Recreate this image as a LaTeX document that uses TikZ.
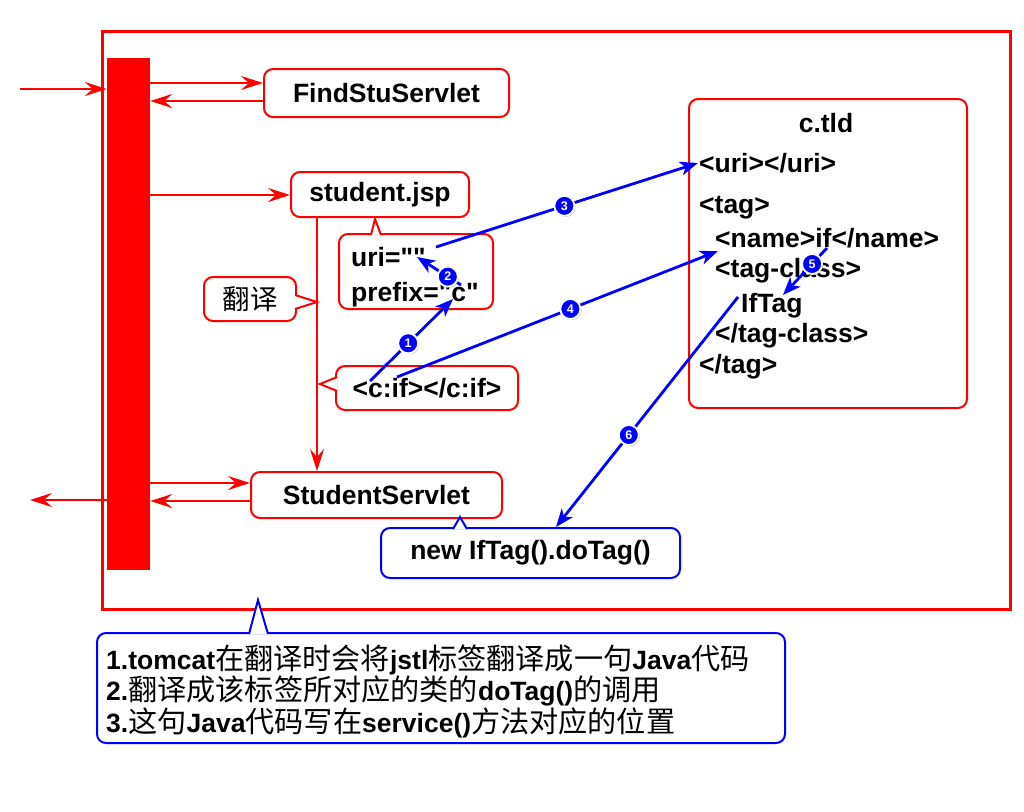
\documentclass[tikz,border=0pt]{standalone}
\usepackage{fontspec}
\setmainfont{Liberation Sans}[Ligatures=TeXOff]
\newfontfamily\cjk[Scale=1.1]{Noto Sans CJK SC}
\usetikzlibrary{arrows.meta,shadows}
\newcommand\zhtext[1]{{\cjk\mdseries #1}}
\begin{document}
\begin{tikzpicture}[x=1pt,y=-1pt,
 redbox/.style={draw=red,line width=2pt,rounded corners=9pt,fill=white,font=\fontsize{26.5}{30}\selectfont\bfseries,inner sep=0pt},
 bluebox/.style={redbox,draw=blue},
 ptr/.style={draw=red,line width=2pt,fill=white,line join=miter},
 bptr/.style={ptr,draw=blue},
 redarrow/.style={draw=red,line width=2.8pt,-{Stealth[length=22pt,width=14pt,inset=8pt]}},
 bluearrow/.style={draw=blue,line width=2.8pt,-{Stealth[length=18pt,width=14pt,inset=5pt]}},
 num/.style={circle,fill=blue,draw=white,line width=1.8pt,inner sep=0pt,minimum size=20pt,text=white,font=\fontsize{12.5}{12.5}\selectfont\bfseries,drop shadow={shadow xshift=1.2pt,shadow yshift=-1.2pt,opacity=0.45}},
 txt/.style={font=\fontsize{26.5}{30}\selectfont\bfseries,inner sep=0pt,anchor=base west},
 notetxt/.style={font=\fontsize{26.5}{30}\selectfont\bfseries,inner sep=0pt,anchor=base west}]
\useasboundingbox (0,0) rectangle (1024,811);

% frame and bar
\node[draw=red,line width=3pt,minimum width=908pt,minimum height=578pt,inner sep=0pt] (frame) at (556,320) {};
\node[fill=red,minimum width=43pt,minimum height=512pt,inner sep=0pt] (bar) at (128.5,314) {};

% boxes
\node[redbox,minimum width=245pt,minimum height=48pt] (find) at (386.5,93) {FindStuServlet};
\node[redbox,minimum width=178pt,minimum height=45pt] (jsp) at (380,194.5) {student.jsp};
\node[redbox,minimum width=251pt,minimum height=46pt] (ss) at (376.5,495) {StudentServlet};

% uri callout
\node[redbox,minimum width=154pt,minimum height=75pt] (uribox) at (416,271.5) {};
\draw[ptr] (371,235) -- (375,219) -- (381,235);
\node[txt] (uritxt) at (351,266) {uri=""};
\node[txt] (pretxt) at (351,301) {prefix="c"};

% translate callout
\node[redbox,font=\cjk\fontsize{25}{30}\selectfont,minimum width=92pt,minimum height=44pt] (fy) at (250,299) {翻译};
\draw[ptr] (295,295) -- (317,302) -- (295,309);

% c:if callout
\node[redbox,minimum width=182pt,minimum height=44pt] (cif) at (427,388) {<c:if></c:if>};
\draw[ptr] (337,377) -- (320,384) -- (337,391);

% doTag callout
\node[bluebox,minimum width=299pt,minimum height=50pt] (dotag) at (530.5,553) {new IfTag().doTag()};
\draw[bptr] (453,529) -- (460,517) -- (467,529);

% c.tld
\node[redbox,minimum width=278pt,minimum height=309pt] (tld) at (828,253.5) {};
\node[txt,anchor=base] (tldtitle) at (826,132) {c.tld};
\node[txt] (t1) at (699,172) {<uri></uri>};
\node[txt] (t2) at (699,213) {<tag>};
\node[txt] (t3) at (715,247) {<name>if</name>};
\node[txt] (t4) at (715,277) {<tag-class>};
\node[txt] (t5) at (741,312) {IfTag};
\node[txt] (t6) at (715,342) {</tag-class>};
\node[txt] (t7) at (699,373) {</tag>};

% note callout
\node[bluebox,minimum width=688pt,minimum height=110pt] (note) at (441,688) {};
\draw[bptr] (249,634) -- (258,600) -- (268,634);
\node[notetxt] (l1) at (106,669) {1.tomcat\zhtext{在翻译时会将}jstl\zhtext{标签翻译成一句}Java\zhtext{代码}};
\node[notetxt] (l2) at (106,700) {2.\zhtext{翻译成该标签所对应的类的}doTag()\zhtext{的调用}};
\node[notetxt] (l3) at (106,732) {3.\zhtext{这句}Java\zhtext{代码写在}service()\zhtext{方法对应的位置}};

% red arrows
\coordinate (inStart) at (20,89);
\coordinate (outEnd) at (30,500);
\draw[redarrow] (inStart) -- (bar.west |- 0,89);
\draw[redarrow] (bar.west |- 0,500) -- (outEnd);
\draw[redarrow] (bar.east |- 0,83) -- (find.west |- 0,83);
\draw[redarrow] (find.west |- 0,101) -- (bar.east |- 0,101);
\draw[redarrow] (bar.east |- 0,195) -- (jsp.west |- 0,195);
\draw[redarrow] (bar.east |- 0,483) -- (ss.west |- 0,483);
\draw[redarrow] (ss.west |- 0,501) -- (bar.east |- 0,501);
\draw[redarrow] (jsp.south -| 317,0) -- (ss.north -| 317,0);

% blue arrows
\coordinate (a1s) at (370,381); \coordinate (a1e) at (453,299);
\coordinate (a2s) at (461,285); \coordinate (a2e) at (417,257);
\coordinate (a3s) at (436,247); \coordinate (a3e) at (698,163);
\coordinate (a4s) at (397,377); \coordinate (a4e) at (718,251);
\coordinate (a5s) at (827,248); \coordinate (a5e) at (783,295);
\coordinate (a6s) at (738,297); \coordinate (a6e) at (556,527);
\draw[bluearrow] (a1s) -- node[num,pos=0.46] (n1) {1} (a1e);
\draw[bluearrow] (a2s) -- node[num,pos=0.3] (n2) {2} (a2e);
\draw[bluearrow] (a3s) -- node[num,pos=0.49] (n3) {3} (a3e);
\draw[bluearrow] (a4s) -- node[num,pos=0.54] (n4) {4} (a4e);
\draw[bluearrow] (a5s) -- node[num,pos=0.34] (n5) {5} (a5e);
\draw[bluearrow] (a6s) -- node[num,pos=0.6] (n6) {6} (a6e);
\end{tikzpicture}
\end{document}
